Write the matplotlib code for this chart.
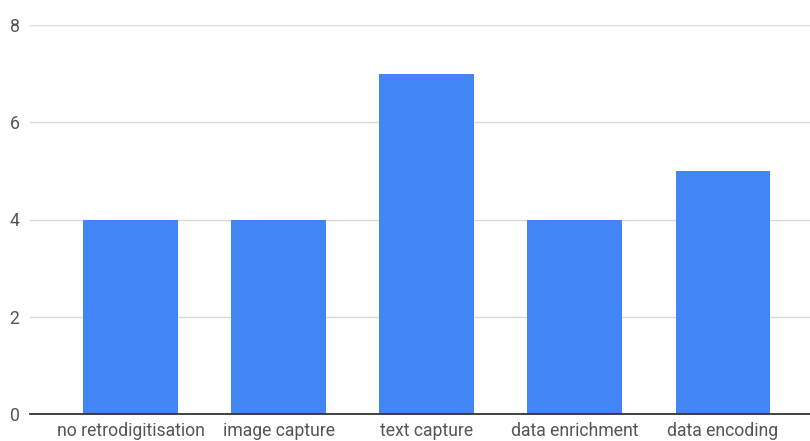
import matplotlib
matplotlib.use('Agg')
import matplotlib.pyplot as plt

# categories and counts
categories = ['no retrodigitisation', 'image capture', 'text capture',
              'data enrichment', 'data encoding']
counts = [4, 4, 7, 4, 5]
yticks = [0, 2, 4, 6, 8]

plt.rcParams['font.family'] = ['Roboto', 'DejaVu Sans']

fig = plt.figure(figsize=(8.1, 4.41), dpi=100)
ax = fig.add_axes([30 / 810, 27 / 441, 780 / 810, 389 / 441])

x = list(range(len(categories)))
ax.bar(x, counts, width=0.64, color='#4285F4', zorder=3)

ax.set_xlim(-0.679, 4.588)
ax.set_ylim(0, 8)
ax.set_yticks(yticks)
ax.set_xticks(x)
ax.set_xticklabels(categories)

ax.grid(axis='y', color='#d9d9d9', linewidth=1, zorder=0)
for s in ['top', 'right', 'left']:
    ax.spines[s].set_visible(False)
ax.spines['bottom'].set_color('#333333')
ax.spines['bottom'].set_linewidth(1.3)
ax.spines['bottom'].set_zorder(4)

ax.tick_params(axis='both', length=0, colors='#555555', labelsize=12.7)
ax.tick_params(axis='y', pad=7.5)
ax.tick_params(axis='x', pad=5.5)

fig.savefig('out.png', dpi=100)
